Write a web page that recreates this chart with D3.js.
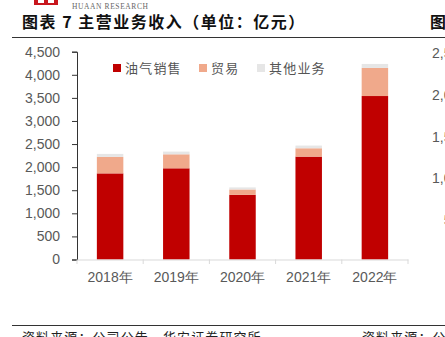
<!DOCTYPE html>
<html><head><meta charset="utf-8">
<script src="https://cdn.jsdelivr.net/npm/d3@7"></script>
<style>body{margin:0;background:#fff}svg{display:block}</style>
</head><body>
<svg id="c" width="445" height="337"></svg>
<script>
const categories = ["2018年","2019年","2020年","2021年","2022年"];
const oilGas = [1865, 1975, 1400, 2228, 3540];
const trade = [357, 303, 117, 181, 608];
const other = [65, 59, 44, 58, 87];
const seriesNames = ["油气销售","贸易","其他业务"];
const seriesColors = ["#C00000","#F0A98B","#E6E6E6"];
const yTicks = [0,500,1000,1500,2000,2500,3000,3500,4000,4500];
const rightTicks = [500,1000,1500,2000,2500];

const svg = d3.select("#c");
const font = "'Liberation Sans', Arial, sans-serif";
const cjk = "'Noto Sans CJK SC', sans-serif";

// header logo
svg.append("rect").attr("x",34).attr("y",0).attr("width",24).attr("height",5).attr("fill","#C8161D");
svg.append("rect").attr("x",38).attr("y",0).attr("width",6).attr("height",3).attr("fill","#fff");
svg.append("rect").attr("x",48).attr("y",0).attr("width",6).attr("height",3).attr("fill","#fff");
svg.append("text").attr("x",72).attr("y",8.5).attr("font-family","'Liberation Serif', serif").attr("font-size",7.5)
  .attr("fill","#666").attr("textLength",76).text("HUAAN RESEARCH");

// title
svg.append("text").attr("x",22).attr("y",28).attr("font-family",cjk).attr("font-weight","bold")
  .attr("font-size",16).attr("letter-spacing",1.5).attr("fill","#111").text("图表 7 主营业务收入（单位：亿元）");
svg.append("text").attr("x",430).attr("y",28).attr("font-family",cjk).attr("font-weight","bold")
  .attr("font-size",16).attr("fill","#111").text("图");
svg.append("line").attr("x1",12).attr("x2",445).attr("y1",37.5).attr("y2",37.5).attr("stroke","#333").attr("stroke-width",1);

// bottom
svg.append("line").attr("x1",12).attr("x2",445).attr("y1",325.5).attr("y2",325.5).attr("stroke","#333").attr("stroke-width",1);
svg.append("text").attr("x",22).attr("y",342).attr("font-family",cjk).attr("font-size",13).attr("letter-spacing",1.1).attr("fill","#222")
  .text("资料来源：公司公告，华安证券研究所");
svg.append("text").attr("x",362).attr("y",342).attr("font-family",cjk).attr("font-size",13).attr("letter-spacing",1.1).attr("fill","#222")
  .text("资料来源：公司公告");

// scales
const y = d3.scaleLinear().domain([0,4500]).range([259.5,51.7]);
const x = d3.scaleBand().domain(categories).range([77,408]).paddingInner(0.6).paddingOuter(0.3);

// stacked data
const rows = categories.map((c,i)=>({cat:c, a:oilGas[i], b:trade[i], c2:other[i]}));
const stack = d3.stack().keys(["a","b","c2"])(rows);
const g = svg.append("g");
stack.forEach((s,si)=>{
  g.selectAll(null).data(s).enter().append("rect")
    .attr("x",d=>x(d.data.cat)).attr("width",x.bandwidth())
    .attr("y",d=>y(d[1])).attr("height",d=>y(d[0])-y(d[1]))
    .attr("fill",seriesColors[si]);
});

// y axis
const ya = svg.append("g").attr("transform","translate(77,0)")
  .call(d3.axisLeft(y).tickValues(yTicks).tickFormat(d3.format(",")).tickSize(5).tickPadding(12));
ya.select(".domain").attr("stroke","#333");
ya.selectAll(".tick line").attr("stroke","#333");
ya.selectAll("text").attr("font-family",font).attr("font-size",14).attr("fill","#595959");

// x axis
const xa = svg.append("g").attr("transform","translate(0,259.5)")
  .call(d3.axisBottom(x).tickSize(0).tickPadding(13));
xa.select(".domain").attr("stroke","#D9D9D9");
xa.selectAll("text").attr("font-family",font).attr("font-size",14).attr("fill","#595959");
const bounds = [x.range()[0]].concat(categories.map(c=>x(c)+x.bandwidth()/2+x.step()/2));
svg.append("g").selectAll("line").data(bounds).enter().append("line")
  .attr("x1",d=>d).attr("x2",d=>d).attr("y1",259.5).attr("y2",264).attr("stroke","#D9D9D9");

// legend
const legX = [113, 199, 257];
seriesNames.forEach((n,i)=>{
  svg.append("rect").attr("x",legX[i]).attr("y",64).attr("width",8).attr("height",8).attr("fill",seriesColors[i]);
  svg.append("text").attr("x",legX[i]+12).attr("y",73).attr("font-family",cjk).attr("font-size",13)
    .attr("letter-spacing",1.2).attr("fill","#555").text(n);
});

// partial right chart ticks
const yr = d3.scaleLinear().domain([0,2500]).range([262,53]);
svg.append("g").selectAll("text").data(rightTicks).enter().append("text")
  .attr("x",467).attr("y",d=>yr(d)).attr("dy","0.35em").attr("text-anchor","end")
  .attr("font-family",font).attr("font-size",14).attr("fill","#595959").text(d3.format(","));
</script>
</body></html>
